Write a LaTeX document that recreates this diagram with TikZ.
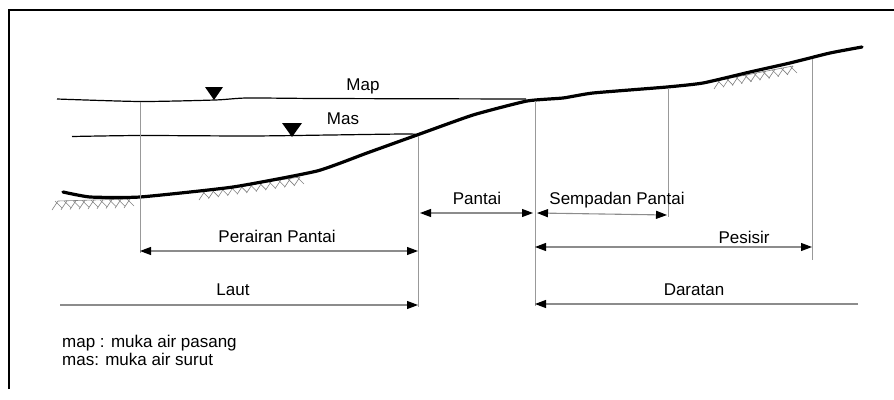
\documentclass[tikz,border=0pt]{standalone}
\usepackage{fontspec}
\setmainfont{Liberation Sans}
\usepackage{tikz}
\usetikzlibrary{arrows.meta}
\usetikzlibrary{calc}
\tikzstyle{tanah}=[line width=3.2pt,line join=round,line cap=round]
\tikzstyle{muka}=[line width=1.2pt]
\tikzstyle{batas}=[draw=black!40,line width=0.9pt]
\tikzstyle{ukur}=[draw=black!45,line width=1.1pt]
\tikzstyle{ke}=[-{Triangle[length=11pt,width=8pt,color=black]}]
\tikzstyle{dua}=[{Triangle[length=11pt,width=8pt,color=black]}-{Triangle[length=11pt,width=8pt,color=black]}]
\tikzstyle{teks}=[font=\fontsize{17}{19}\selectfont,inner sep=0pt,anchor=base]
\tikzstyle{arsir}=[draw=black!50,line width=0.6pt]
\newcommand{\arsirtanah}[3]{%
  \draw[arsir] (#1) -- (#2);
  \foreach \i in {0,...,#3}{
    \draw[arsir] ($(#1)!\i/#3!(#2)$) -- ++(-6,9);
    \draw[arsir] ($(#1)!\i/#3!(#2)$) ++(-3,0) -- ++(7,7);
  }}

\begin{document}
\begin{tikzpicture}[x=1pt,y=-1pt]
\useasboundingbox (0,0) rectangle (894,399);
% bingkai
\draw[line width=2.5pt] (9,389) -- (9,10) -- (894,10);
% muka air
\draw[muka] plot[smooth,tension=0.4] coordinates {(57,99) (140,101.5) (215,100) (247,98) (320,98.5) (526,99)};
\draw[muka] plot[smooth,tension=0.4] coordinates {(72,136.5) (140,135.5) (250,136) (330,135) (410,134) (418,136)};
\fill (205,87) -- (223,87) -- (214,100) -- cycle;
\fill (282,123) -- (302,123) -- (292,137) -- cycle;
\node[teks] (map) at (363,90) {Map};
\node[teks] (mas) at (343,124) {Mas};
% garis tanah
\arsirtanah{58,201}{130,199}{8}
\arsirtanah{205,191}{300,177}{10}
\arsirtanah{720,80}{793,66}{8}
\draw[tanah] plot[smooth,tension=0.3] coordinates {(63,192) (90,197) (140,197) (233,187) (317,171) (367,153) (417,135) (473,115) (527,101) (563,98) (593,93) (667,87) (703,83) (750,72) (790,63) (830,53) (862,47)};
% batas
\coordinate (b1a) at (140,101.5);
\coordinate (b1b) at (140,253);
\coordinate (b2a) at (418,136);
\coordinate (b2b) at (418,307);
\coordinate (b3a) at (535,101);
\coordinate (b3b) at (535,306);
\coordinate (b4a) at (668,88);
\coordinate (b4b) at (668,217);
\coordinate (b5a) at (812,59);
\coordinate (b5b) at (812,260);
\draw[batas] (b1a) -- (b1b);
\draw[batas] (b2a) -- (b2b);
\draw[batas] (b3a) -- (b3b);
\draw[batas] (b4a) -- (b4b);
\draw[batas] (b5a) -- (b5b);
% ukuran
\coordinate (laut0) at (60,305);
\coordinate (darat1) at (858,304);
\draw[ukur,dua] (140,251) -- (418,251);
\draw[ukur,ke] (laut0) -- (418,305);
\draw[ukur,dua] (420,213) -- (533,213);
\draw[ukur,dua] (537,213) -- (667,215);
\draw[ukur,dua] (535,247) -- (812,247);
\draw[ukur,ke] (darat1) -- (535,304);
\node[teks] (perairan) at (277,242) {Perairan Pantai};
\node[teks] (laut) at (233,295) {Laut};
\node[teks] (pantai) at (477,204) {Pantai};
\node[teks] (sempadan) at (617,204) {Sempadan Pantai};
\node[teks] (pesisir) at (744,243) {Pesisir};
\node[teks] (daratan) at (694,295) {Daratan};
% keterangan
\node[teks,anchor=base west] (ket1) at (62,347) {map : muka air pasang};
\node[teks,anchor=base west] (ket2) at (62,365) {mas: muka air surut};
\end{tikzpicture}
\end{document}
